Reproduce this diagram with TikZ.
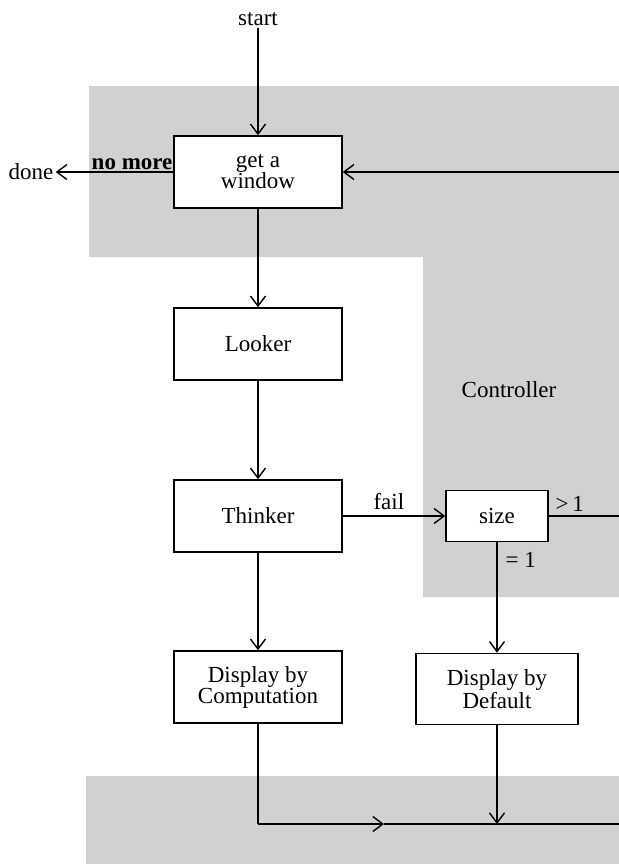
\documentclass[tikz,border=0pt]{standalone}
\usepackage{fontspec}
\setmainfont{Liberation Serif}
\usetikzlibrary{arrows.meta}
\begin{document}
\begin{tikzpicture}[x=0.5pt,y=-0.5pt,
  font=\fontsize{11.5}{10.5}\selectfont,
  >={Straight Barb[length=5pt,width=7.5pt,line width=0.7pt]},
  proc/.style={draw,line width=0.8pt,fill=white,align=center,
    minimum width=84pt,minimum height=36pt,inner sep=1pt},
  wire/.style={line width=0.65pt},
  shade/.style={fill=black!18},
  lbl/.style={inner sep=1pt}]
\useasboundingbox (0,0) rectangle (619,864);

% shaded background areas
\fill[shade] (89,86) -- (619,86) -- (619,597) -- (423,597) -- (423,257) -- (89,257) -- cycle;
\fill[shade] (86,776) rectangle (619,864);

% boxes
\node[proc] (gw) at (258,172) {get a\\window};
\node[proc] (looker) at (258,344) {Looker};
\node[proc] (thinker) at (258,516) {Thinker};
\node[proc,minimum width=51pt,minimum height=25.5pt] (size) at (497,516) {size};
\node[proc] (dbc) at (258,687) {Display by\\Computation};
\node[proc,minimum width=81pt,minimum height=35.5pt] (dbd) at (497,689) {Display by\\Default};

% free texts
\node[lbl] (start) at (258,19) {start};
\node[lbl] (done) at (31,172) {done};
\node[lbl] (ctrl) at (509,390) {Controller};

% loose ends
\coordinate (back) at (619,172);
\coordinate (more) at (619,516);
\coordinate (bl) at (258,824);
\coordinate (mid) at (384,824);
\coordinate (jn) at (497,824);
\coordinate (br) at (619,824);

% connectors
\draw[wire,->] (start.south) -- (gw.north);
\draw[wire,->] (gw.west) -- node[lbl,above,pos=0.35,font=\fontsize{11.5}{10.5}\selectfont\bfseries] (nomore) {no more} (done.east);
\draw[wire,->] (back) -- (gw.east);
\draw[wire,->] (gw.south) -- (looker.north);
\draw[wire,->] (looker.south) -- (thinker.north);
\draw[wire,->] (thinker.south) -- (dbc.north);
\draw[wire,->] (thinker.east) -- node[lbl,above=2pt,pos=0.45] (fail) {fail} (size.west);
\draw[wire] (size.east) -- node[lbl,above=1pt,pos=0.3] (gt) {>\,1} (more);
\draw[wire,->] (size.south) -- node[lbl,right=3pt,pos=0.16] (eq) {= 1} (dbd.north);
\draw[wire] (dbc.south) -- (bl);
\draw[wire,->] (bl) -- (mid);
\draw[wire] (mid) -- (br);
\draw[wire,->] (dbd.south) -- (jn);
\end{tikzpicture}
\end{document}
